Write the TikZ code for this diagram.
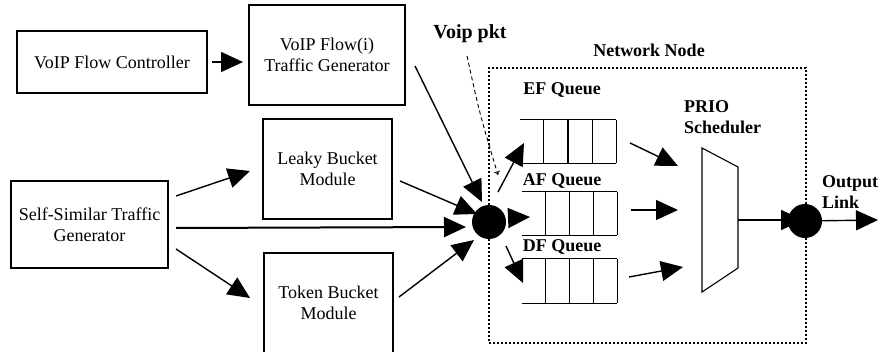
\documentclass[tikz,border=0pt]{standalone}
\usepackage{fontspec}
\setmainfont{Liberation Serif}
\usetikzlibrary{arrows.meta,calc}
\newcommand\drawqueue[1]{\draw[boxline] (#1.north west) -- (#1.north east) (#1.south west) -- (#1.south east)
  \foreach \i in {1,2,3,4} {($(#1.north west)!\i/4!(#1.north east)$) -- ($(#1.south west)!\i/4!(#1.south east)$)};}
\begin{document}
\begin{tikzpicture}[x=1pt,y=-1pt,
  boxline/.style={line width=1.1pt},
  box/.style={draw,line width=1.1pt,rectangle,align=center,inner sep=0pt,font=\fontsize{18}{21}\selectfont},
  lbl/.style={inner sep=0pt,font=\fontsize{18}{21}\selectfont\bfseries},
  arr/.style={line width=1.4pt,-{Triangle[length=22pt,width=20pt]}},
  dot/.style={circle,fill=black,minimum size=34pt,inner sep=0pt},
  qnode/.style={rectangle,inner sep=0pt}]
\useasboundingbox (0,0) rectangle (880,352);
% boxes
\node[box,minimum width=190pt,minimum height=62pt] (ctrl) at (112,62) {VoIP Flow Controller};
\node[box,minimum width=156pt,minimum height=100pt] (gen) at (327,55) {VoIP Flow(i)\\Traffic Generator};
\node[box,minimum width=129pt,minimum height=100pt] (leaky) at (327.5,169) {Leaky Bucket\\Module};
\node[box,minimum width=157pt,minimum height=87pt] (self) at (89.5,224.5) {Self-Similar Traffic\\Generator};
\node[box,minimum width=129pt,minimum height=100pt] (token) at (328.5,303) {Token Bucket\\Module};
% network node
\node[draw,line width=1.6pt,dash pattern=on 2pt off 2pt,minimum width=317pt,minimum height=275pt,inner sep=0pt] (net) at (647.5,205.5) {};
\node[lbl] (netl) at (649,50) {Network Node};
% queues
\node[qnode,minimum width=96pt,minimum height=43pt] (ef) at (568,141.5) {};
\node[qnode,minimum width=95pt,minimum height=43pt] (af) at (569.5,213.5) {};
\node[qnode,minimum width=95pt,minimum height=44pt] (df) at (569.5,281) {};
\drawqueue{ef}
\drawqueue{af}
\drawqueue{df}
\node[lbl] (efl) at (562,90) {EF Queue};
\node[lbl] (afl) at (562,181) {AF Queue};
\node[lbl] (dfl) at (562,247) {DF Queue};
% scheduler
\coordinate (s1) at (702,148);
\coordinate (s2) at (738,167);
\coordinate (s3) at (738,268);
\coordinate (s4) at (702,292);
\coordinate (sout) at (738,220);
\draw[boxline] (s1) -- (s2) -- (s3) -- (s4) -- cycle;
\node[lbl,align=left,anchor=west] (prio) at (684,117.5) {PRIO\\Scheduler};
% output
\draw[arr] (sout) -- (803,220) coordinate (oin);
\node[dot] (out) at (805,221) {};
\coordinate (oend) at (878,220);
\draw[arr] (out) -- (oend);
\node[lbl,align=left,anchor=west] (outl) at (822,192) {Output\\Link};
% hub
\node[dot] (hub) at (489,222) {};
% arrows into hub
\draw[arr] (212,62) coordinate (c1) -- (243,62) coordinate (c2);
\draw[arr] (415,66) coordinate (g1) -- (482,202) coordinate (g2);
\draw[arr] (400,181) coordinate (l1) -- (477,214) coordinate (l2);
\draw[arr,line width=2pt] (176,228) coordinate (h1) -- (466,227) coordinate (h2);
\draw[arr] (399,297) coordinate (t1) -- (474,240) coordinate (t2);
\draw[arr] (176,196) coordinate (a1) -- (250,171) coordinate (a2);
\draw[arr] (176,249) coordinate (b1) -- (250,298) coordinate (b2);
% out of hub
\draw[arr] (498,192) coordinate (e1) -- (524,143) coordinate (e2);
\draw[arr] (508,218) coordinate (f1) -- (530,217) coordinate (f2);
\draw[arr] (506,246) coordinate (d1) -- (523,283) coordinate (d2);
% queues to scheduler
\draw[arr] (630,143) coordinate (q1) -- (678,166) coordinate (q2);
\draw[arr] (631,210) coordinate (q3) -- (678,210) coordinate (q4);
\draw[arr] (629,277) coordinate (q5) -- (683,267) coordinate (q6);
% voip pkt
\node[inner sep=0pt,font=\fontsize{20}{22}\selectfont\bfseries] (vp) at (470,34) {Voip pkt};
\draw[line width=0.9pt,dash pattern=on 4pt off 3pt,-{To[length=4pt,width=6pt]}] (467,56) coordinate (v1) .. controls (480,115) .. (498,175) coordinate (v2);
\end{tikzpicture}
\end{document}
